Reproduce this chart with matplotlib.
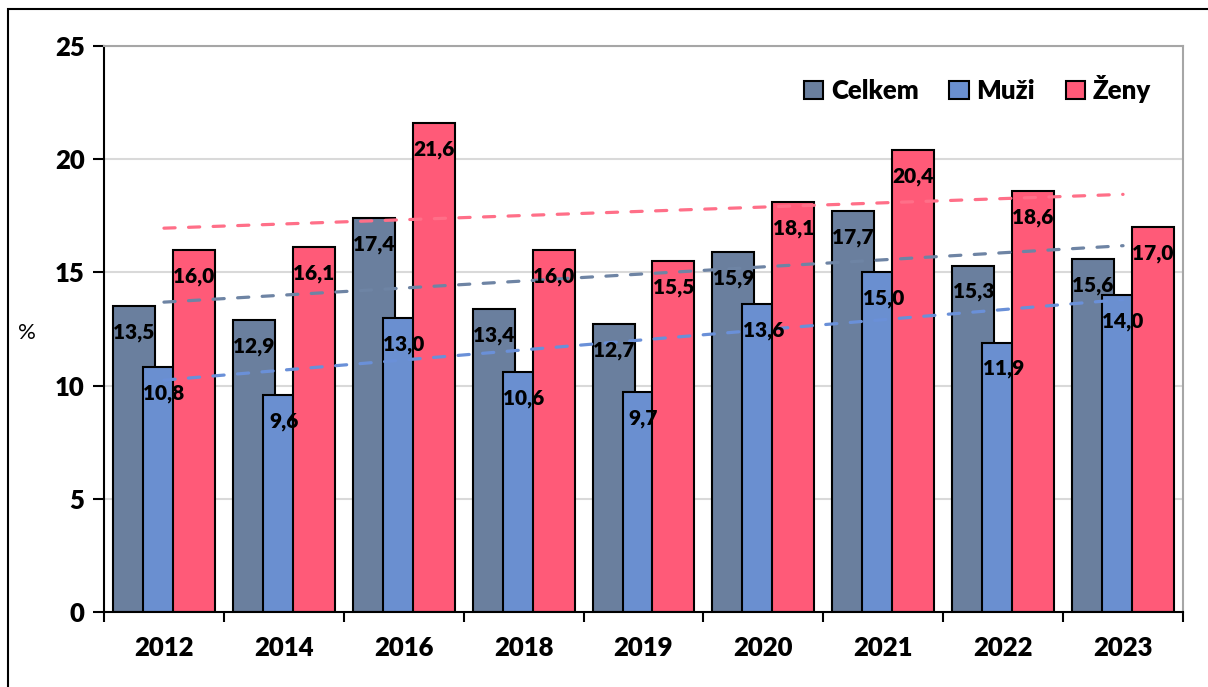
import matplotlib.pyplot as plt
import matplotlib.patches as mpatches
import numpy as np

plt.rcParams['font.family'] = ['Lato', 'DejaVu Sans']

# data
years = ["2012", "2014", "2016", "2018", "2019", "2020", "2021", "2022", "2023"]
celkem = [13.5, 12.9, 17.4, 13.4, 12.7, 15.9, 17.7, 15.3, 15.6]
muzi = [10.8, 9.6, 13.0, 10.6, 9.7, 13.6, 15.0, 11.9, 14.0]
zeny = [16.0, 16.1, 21.6, 16.0, 15.5, 18.1, 20.4, 18.6, 17.0]

series = [
    ("Celkem", celkem, "#6A7F9E", "#6E84A4"),
    ("Muži", muzi, "#6A8FD0", "#6A90D8"),
    ("Ženy", zeny, "#FF5A78", "#FF6F88"),
]

fig = plt.figure(figsize=(12.08, 6.87), dpi=100)
ax = fig.add_axes([104 / 1208, 75 / 687, 1079 / 1208, 566 / 687])

x = np.arange(1, len(years) + 1)
width = 0.35
offsets = [-0.25, 0.0, 0.25]

for (name, vals, col, tcol), off in zip(series, offsets):
    bars = ax.bar(x + off, vals, width, color=col, edgecolor="black",
                  linewidth=1.5, label=name, zorder=2)

for (name, vals, col, tcol), off in zip(series, offsets):
    # linear trend, as in the spreadsheet
    k, q = np.polyfit(x, vals, 1)
    ax.plot([x[0], x[-1]], [k * x[0] + q, k * x[-1] + q], color=tcol,
            lw=2.3, dashes=(3.5, 4.2), dash_capstyle="round", zorder=3)

for (name, vals, col, tcol), off in zip(series, offsets):
    for xi, v in zip(x, vals):
        ax.annotate(f"{v:.1f}".replace(".", ","), (xi + off, v),
                    xytext=(0, -19), textcoords="offset points",
                    ha="center", va="center", fontsize=15,
                    fontweight="heavy", color="black", zorder=4)

ax.set_xlim(0.5, len(years) + 0.5)
ax.set_ylim(0, 25)
ax.set_yticks(np.arange(0, 26, 5))
ax.set_xticks(x)
ax.set_xticklabels(years)
ax.set_xticks(np.arange(0.5, len(years) + 1, 1), minor=True)
ax.tick_params(axis="x", which="major", length=0, pad=17, labelsize=18.5)
ax.tick_params(axis="x", which="minor", length=7, width=1.5, direction="out")
ax.tick_params(axis="y", length=8, width=1.5, pad=6, labelsize=18.5)
for lab in ax.get_xticklabels() + ax.get_yticklabels():
    lab.set_fontweight("heavy")

ax.grid(axis="y", color="#D9D9D9", lw=1.5, zorder=0)
ax.set_axisbelow(True)
for s in ["left", "bottom"]:
    ax.spines[s].set_linewidth(1.5)
    ax.spines[s].set_color("black")
for s in ["top", "right"]:
    ax.spines[s].set_linewidth(1.5)
    ax.spines[s].set_color("#A6A6A6")

fig.text(27 / 1208, 1 - 333 / 687, "%", fontsize=16, ha="center", va="center")

leg = ax.legend(loc="upper right", bbox_to_anchor=(0.98, 0.967), ncol=3,
                frameon=False, fontsize=18.5, handlelength=0.75, handleheight=0.75,
                handletextpad=0.3, columnspacing=1.2, borderaxespad=0)
for t in leg.get_texts():
    t.set_fontweight("heavy")

# outer chart border
fig.patches.append(mpatches.Rectangle((8 / 1208, -0.1), 1.2, 1.1 - 9 / 687,
                                      transform=fig.transFigure, fill=False,
                                      edgecolor="black", lw=1.5))

fig.savefig("out.png", dpi=100)
